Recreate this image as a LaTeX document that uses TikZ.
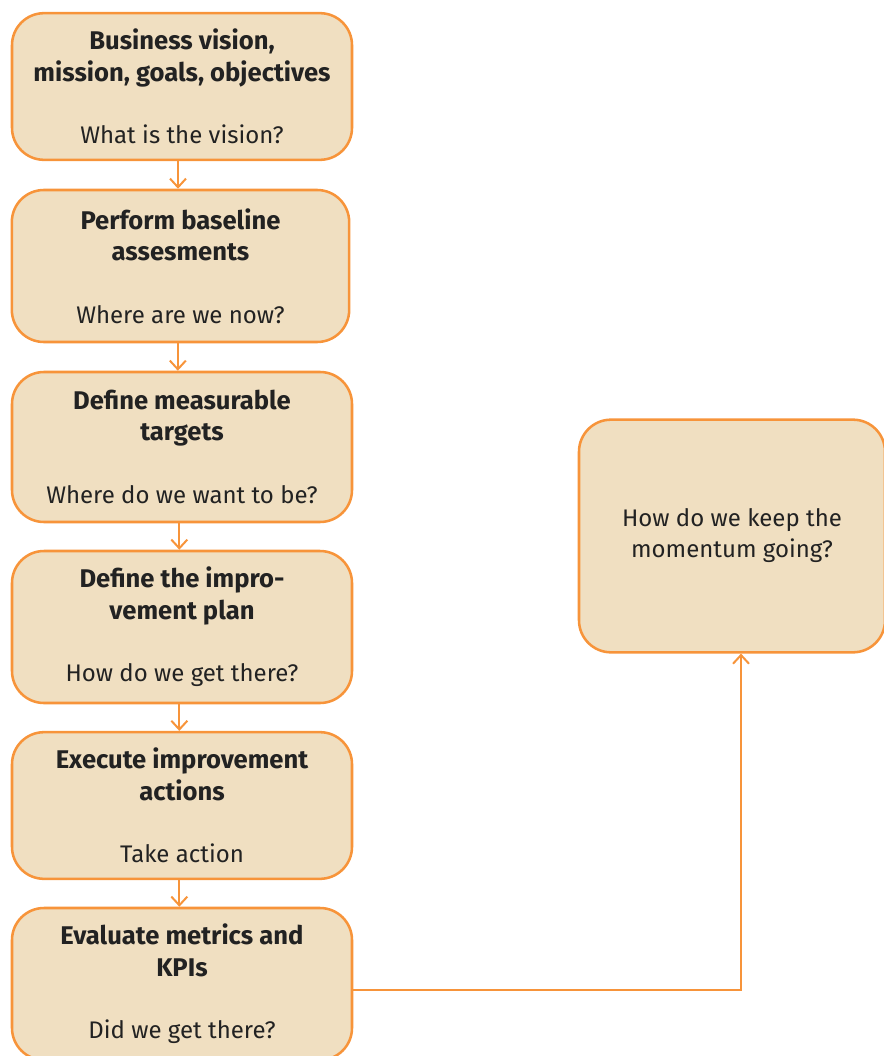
\documentclass[tikz,border=0pt]{standalone}
\usepackage{fontspec}
\setmainfont{Fira Sans}
\usetikzlibrary{arrows.meta}
\definecolor{boxfill}{HTML}{F0DFC1}
\definecolor{boxline}{HTML}{F7943A}
\definecolor{ink}{HTML}{222222}
\newcommand{\hd}[1]{{\fontsize{19.2}{23.5}\selectfont\bfseries #1}}
\begin{document}
\begin{tikzpicture}[x=0.75pt,y=-0.75pt,
  stage/.style={draw=boxline, line width=1.9pt, fill=boxfill, rounded corners=24pt,
    inner sep=0pt, text=ink, align=center, font=\fontsize{18}{23.5}\selectfont,
    minimum width=#1},
  stage/.default=255pt,
  flow/.style={draw=boxline, line width=1.5pt, -{Straight Barb[length=6.5pt,width=12pt,line width=1.5pt]}}]
  \useasboundingbox (0,0) rectangle (883,1056);

  \node[stage, minimum height=110pt] (b1) at (182,86.5)
    {\hd{Business vision,}\\ \hd{mission, goals, objectives}\\[23.5pt] What is the vision?};
  \node[stage=253pt, minimum height=114pt] (b2) at (180.5,266)
    {\hd{Perform baseline}\\ \hd{assesments}\\[23.5pt] Where are we now?};
  \node[stage, minimum height=112.5pt] (b3) at (182,447)
    {\hd{Define measurable}\\ \hd{targets}\\[23.5pt] Where do we want to be?};
  \node[stage, minimum height=114pt] (b4) at (182,627)
    {\hd{Define the impro-}\\ \hd{vement plan}\\[23.5pt] How do we get there?};
  \node[stage, minimum height=110pt] (b5) at (182,805.5)
    {\hd{Execute improvement}\\ \hd{actions}\\[23.5pt] Take action};
  \node[stage, minimum height=114pt] (b6) at (182,984)
    {\hd{Evaluate metrics and}\\ \hd{KPIs}\\[23.5pt] Did we get there?};
  \node[stage=229.5pt, minimum height=174.5pt] (r) at (732,536)
    {\raisebox{-2pt}{\begin{tabular}{@{}c@{}}How do we keep the\\ momentum going?\end{tabular}}};

  \draw[flow] ([xshift=-3pt]b1.south) -- ([xshift=-3pt]b1.south |- b2.north);
  \draw[flow] ([xshift=-2pt]b2.south) -- ([xshift=-2pt]b2.south |- b3.north);
  \draw[flow] ([xshift=-2pt]b3.south) -- ([xshift=-2pt]b3.south |- b4.north);
  \draw[flow] ([xshift=-2pt]b4.south) -- ([xshift=-2pt]b4.south |- b5.north);
  \draw[flow] ([xshift=-2pt]b5.south) -- ([xshift=-2pt]b5.south |- b6.north);
  \draw[flow] ([yshift=-4.5pt]b6.east) -| ([xshift=6.75pt]r.south);
\end{tikzpicture}
\end{document}
